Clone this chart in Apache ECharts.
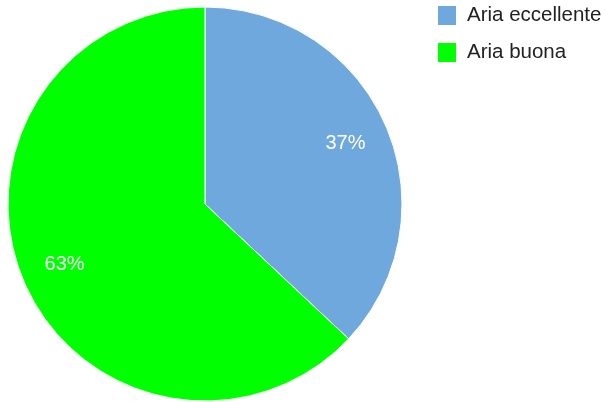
<!DOCTYPE html>
<html>
<head>
<meta charset="utf-8">
<script src="https://cdn.jsdelivr.net/npm/echarts@6/dist/echarts.min.js"></script>
<style>
html,body{margin:0;padding:0;background:#fff;}
#chart{width:605px;height:402px;}
</style>
</head>
<body>
<div id="chart"></div>
<script>
const categories = ['Aria eccellente', 'Aria buona'];
const values = [37, 63];
const colors = ['#6fa8dc', '#00ff00'];

const data = categories.map((name, i) => ({ name, value: values[i], itemStyle: { color: colors[i] } }));

const chart = echarts.init(document.getElementById('chart'), null, { renderer: 'canvas' });
chart.setOption({
  animation: false,
  backgroundColor: '#ffffff',
  legend: {
    orient: 'vertical',
    left: 436,
    top: 4,
    padding: 0,
    itemWidth: 20,
    itemHeight: 21,
    itemGap: 14,
    icon: 'rect',
    textStyle: { fontFamily: 'Liberation Sans, Arial, sans-serif', fontSize: 20.5, color: '#222', padding: [0, 0, 0, 5] },
    data: categories
  },
  series: [
    {
      type: 'pie',
      center: [205, 204],
      radius: [0, 197],
      startAngle: 90,
      clockwise: true,
      silent: true,
      label: { show: false },
      labelLine: { show: false },
      itemStyle: { borderColor: '#ffffff', borderWidth: 1 },
      data: data
    },
    {
      type: 'pie',
      center: [205, 204],
      radius: [103, 197],
      startAngle: 90,
      clockwise: true,
      silent: true,
      legendHoverLink: false,
      itemStyle: { color: 'rgba(0,0,0,0)', borderWidth: 0 },
      label: {
        show: true,
        position: 'inside',
        formatter: '{d}%',
        color: '#ffffff',
        fontFamily: 'Liberation Sans, Arial, sans-serif',
        fontSize: 20,
        padding: [4, 0, 0, 0]
      },
      labelLine: { show: false },
      data: categories.map((name, i) => ({ name: name + ' ', value: values[i] }))
    }
  ]
});
</script>
</body>
</html>
